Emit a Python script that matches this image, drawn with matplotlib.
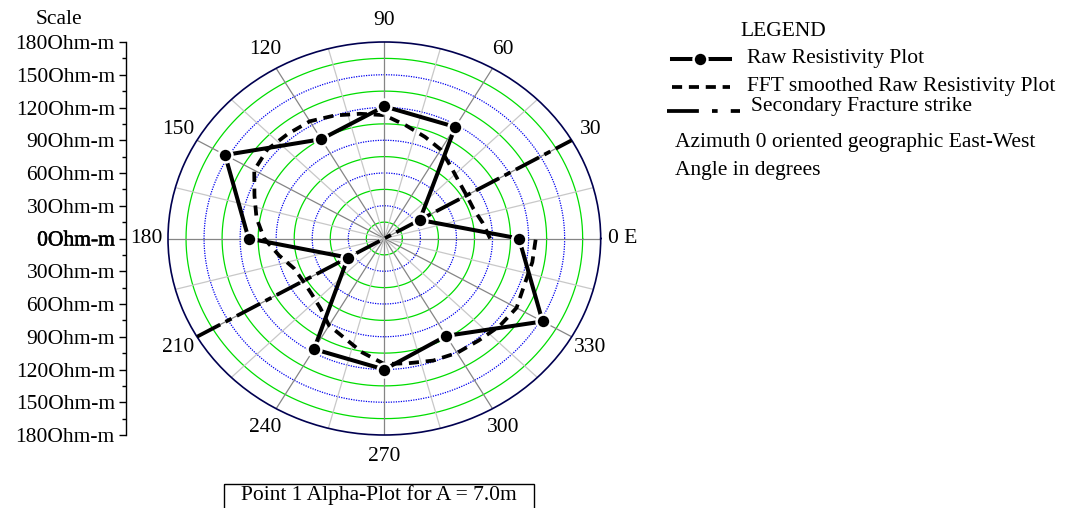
import numpy as np
import matplotlib
matplotlib.use("Agg")
import matplotlib.pyplot as plt
import matplotlib.patheffects as pe
from matplotlib.patches import Rectangle

plt.rcParams["font.family"] = ["Liberation Serif", "DejaVu Serif"]
plt.rcParams["font.size"] = 15.5

# ---- data ----
raw_angles = [0, 30, 60, 90, 120, 150, 180, 210, 240, 270, 300, 330]
raw_values = [112, 34, 118, 121, 105, 153, 113, 35, 117, 120, 103, 152]

fft_angles = list(range(0, 361, 10))
fft_values = [88, 83, 79, 79, 81, 86, 94, 99, 105, 113,
              116, 120, 124, 125, 127, 125, 115, 108, 100, 89,
              80, 78, 79, 83, 92, 97, 106, 115, 116, 119,
              121, 122, 125, 127, 124, 125, 126]

strike_angles = [210, 30]
strike_values = [180, 180]

theta_ticks = [0, 30, 60, 90, 120, 150, 180, 210, 240, 270, 300, 330]
theta_labels = ["0 E", "30", "60", "90", "120", "150", "180",
                "210", "240", "270", "300", "330"]

scale_ticks = list(range(-180, 181, 30))
scale_labels = [f"{abs(v)}Ohm-m" for v in scale_ticks]

ring_values = list(range(15, 180, 15))
spoke_angles = list(range(0, 360, 15))
R_MAX = 180

legend_labels = ["Raw Resistivity Plot",
                 "FFT smoothed Raw Resistivity Plot",
                 "Secondary Fracture strike"]
notes = ["Azimuth 0 oriented geographic East-West", "Angle in degrees"]
title = "Point 1 Alpha-Plot for A = 7.0m"

W, H = 1068, 508
fig = plt.figure(figsize=(W / 100, H / 100), dpi=100)


def box(x0, y0, x1, y1):
    # pixel box (top-left origin) -> figure fraction rect
    return [x0 / W, 1 - y1 / H, (x1 - x0) / W, (y1 - y0) / H]


raw_style = dict(color="black", lw=2.9, marker="o", ms=10,
                 mfc="black", mec="white", mew=1.8)
fft_style = dict(color="black", lw=2.7, linestyle=(0, (2.7, 1.8)))
strike_style = dict(color="black", lw=2.7, linestyle=(0, (7, 1.6, 1.8, 1.6)))

# =========================
# Polar plot
# =========================
ax = fig.add_axes(box(168, 42, 600.7, 435), projection="polar")
ax.set_aspect("auto")
ax.set_ylim(0, R_MAX)
ax.grid(False)

circle = np.linspace(0, 2 * np.pi, 721)
for r in ring_values:
    if (r // 15) % 2 == 1:
        ax.plot(circle, [r] * len(circle), color="#00dd00", lw=0.9, zorder=1)
    else:
        ax.plot(circle, [r] * len(circle), color="#0000ee", lw=0.9,
                linestyle=(0, (1, 1)), zorder=1)

for a in spoke_angles:
    col = "#858585" if a % 30 == 0 else "#c8c8c8"
    ax.plot([np.radians(a)] * 2, [0, R_MAX], color=col, lw=0.9, zorder=1)

ax.plot(np.radians(strike_angles), strike_values, zorder=4, **strike_style)
ax.plot(np.radians(fft_angles), fft_values, zorder=4, **fft_style)
ax.plot(np.radians(raw_angles + raw_angles[:1]),
        raw_values + raw_values[:1], zorder=5, **raw_style)

ax.set_xticks(np.radians(theta_ticks))
ax.set_xticklabels(theta_labels)
ax.tick_params(axis="x", pad=5)
ax.set_yticks([])
ax.spines["polar"].set_color("#000050")
ax.spines["polar"].set_linewidth(1.2)

# =========================
# Scale bar on the left
# =========================
sx = fig.add_axes(box(126, 42, 127, 435))
sx.set_ylim(-R_MAX, R_MAX)
for s in ["right", "top", "bottom"]:
    sx.spines[s].set_visible(False)
sx.spines["left"].set_linewidth(1.0)
sx.set_xticks([])
sx.set_yticks(scale_ticks)
sx.set_yticklabels(scale_labels)
sx.set_yticks(list(range(-165, 180, 30)), minor=True)
sx.tick_params(axis="y", which="major", direction="out", length=5, width=1, pad=3)
sx.tick_params(axis="y", which="minor", direction="out", length=3, width=1)
sx.patch.set_visible(False)
for lab in sx.get_yticklabels():
    if lab.get_text().startswith("0"):
        lab.set_path_effects([pe.withStroke(linewidth=0.4, foreground="black")])

# =========================
# Overlay: scale title, legend, notes, title box
# =========================
ov = fig.add_axes([0, 0, 1, 1])
ov.set_xlim(0, W)
ov.set_ylim(H, 0)
ov.axis("off")

ov.text(59, 19, "Scale", ha="center", va="center")

ov.text(740, 31, "LEGEND", ha="left", va="center")
ov.plot([672, 730], [59, 59], **{k: v for k, v in raw_style.items() if k != "marker"})
ov.plot([700], [59], linestyle="none", **{k: v for k, v in raw_style.items()
                                          if k not in ("color", "lw")})
ov.plot([672, 730], [87, 87], **fft_style)
ov.plot([667, 740], [111, 111], color="black", lw=2.7,
        linestyle=(0, (8.5, 3.5, 1.5, 3.5)))
ov.text(747, 59, legend_labels[0], ha="left", va="center")
ov.text(747, 87, legend_labels[1], ha="left", va="center")
ov.text(751, 107, legend_labels[2], ha="left", va="center")
ov.text(675, 143, notes[0], ha="left", va="center")
ov.text(675, 171, notes[1], ha="left", va="center")

ov.add_patch(Rectangle((224, 484), 310, 40, fill=False, ec="black", lw=1.0))
ov.text(379, 495, title, ha="center", va="center")

fig.savefig("out.png", dpi=100)
plt.close(fig)
